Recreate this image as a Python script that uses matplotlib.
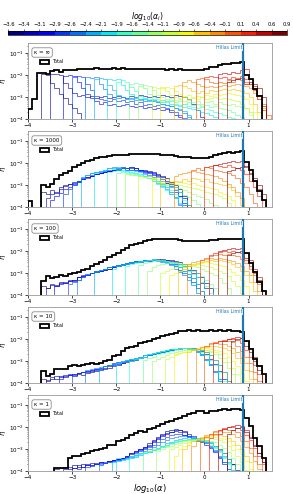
import numpy as np
import matplotlib

matplotlib.use('Agg')
import matplotlib.pyplot as plt
from matplotlib.colors import BoundaryNorm
from matplotlib.colorbar import ColorbarBase
from matplotlib.patches import Patch
from matplotlib.ticker import FuncFormatter
import matplotlib.transforms as mtransforms

# all histograms use bins of 0.1 in log10(alpha); values below are log10(eta)
BIN = 0.1
TOT_START = -4.0
hillas = 0.88

log_alpha_i = [-3.5, -3.25, -3.0, -2.75, -2.5, -2.25, -2.0, -1.75, -1.5,
               -1.25, -1.0, -0.75, -0.5, -0.25, 0.0, 0.25, 0.5, 0.75]

kappa_labels = ['\u03ba = \u221e', '\u03ba = 1000', '\u03ba = 100', '\u03ba = 10', '\u03ba = 1']

### kappa = inf
tot_inf = [-3.55, -3.10, -1.92, -1.90, -1.96, -1.84, -1.80, -1.86, -1.78, -1.76,
           -1.78, -1.74, -1.72, -1.75, -1.72, -1.70, -1.73, -1.71, -1.72, -1.70,
           -1.72, -1.70, -1.71, -1.73, -1.71, -1.72, -1.74, -1.72, -1.75, -1.73,
           -1.74, -1.76, -1.74, -1.77, -1.75, -1.78, -1.80, -1.78, -1.79, -1.77,
           -1.72, -1.66, -1.64, -1.55, -1.52, -1.50, -1.47, -1.46, -1.42,
           -2.00, -2.17, -2.62, -2.94]
start_inf = [-3.7, -3.5, -3.2, -3.0, -2.7, -2.5, -2.2, -2.0, -1.7,
             -1.5, -1.2, -1.0, -0.7, -0.5, -0.2, 0.0, 0.3, 0.5]
comp_inf = [
    [-1.95, -2.0, -2.35, -2.6, -2.85, -3.05, -3.3, -3.5, -3.75, -4.1],
    [-1.98, -1.95, -2.0, -2.35, -2.6, -2.8, -2.95, -2.9, -3.0, -2.95, -3.05, -3.0, -2.95, -3.05, -3.0, -2.95,
     -3.0, -3.05, -2.95, -3.0, -2.9, -2.95, -3.0, -2.95, -3.0, -2.9, -2.95, -3.0, -2.9, -2.95, -3.0, -3.1,
     -3.3, -3.6, -3.9, -4.2],
    [-2.05, -2.0, -2.05, -2.3, -2.6, -2.85, -3.05, -3.2, -3.3, -3.25, -3.35, -3.3, -3.4, -3.35, -3.3, -3.4,
     -3.45, -3.4, -3.5, -3.45, -3.55, -3.5, -3.6, -3.55, -3.7, -3.8, -3.9, -4.2],
    [-2.1, -2.05, -2.1, -2.4, -2.7, -2.95, -3.1, -3.15, -3.2, -3.1, -3.2, -3.15, -3.25, -3.2, -3.3, -3.25,
     -3.35, -3.3, -3.4, -3.35, -3.45, -3.5, -3.6, -3.7, -3.8, -3.95, -4.2],
    [-2.1, -2.15, -2.1, -2.4, -2.65, -2.85, -3.0, -3.05, -3.0, -3.1, -3.05, -3.15, -3.1, -3.2, -3.15, -3.2,
     -3.25, -3.3, -3.35, -3.4, -3.5, -3.6, -3.75, -3.9, -4.2],
    [-2.2, -2.15, -2.2, -2.45, -2.7, -2.9, -3.0, -3.05, -3.1, -3.05, -3.15, -3.1, -3.2, -3.15, -3.25, -3.3,
     -3.35, -3.4, -3.5, -3.55, -3.65, -3.8, -4.0, -4.2],
    [-2.2, -2.25, -2.2, -2.45, -2.7, -2.85, -3.0, -3.1, -3.05, -3.15, -3.1, -3.2, -3.25, -3.2, -3.3, -3.35,
     -3.4, -3.45, -3.5, -3.55, -3.6, -3.7, -3.75, -3.8, -3.9, -4.0, -4.2],
    [-2.3, -2.25, -2.3, -2.55, -2.75, -2.95, -3.05, -3.1, -3.15, -3.2, -3.15, -3.25, -3.2, -3.3, -3.35, -3.3,
     -3.4, -3.45, -3.5, -3.45, -3.55, -3.6, -3.7, -3.75, -3.8, -3.9, -3.95, -4.0, -4.2],
    [-2.4, -2.35, -2.4, -2.6, -2.85, -3.0, -3.1, -3.15, -3.2, -3.15, -3.25, -3.2, -3.3, -3.25, -3.35, -3.3,
     -3.4, -3.35, -3.45, -3.4, -3.5, -3.55, -3.6, -3.7, -3.8, -3.9, -4.1, -4.3],
    [-2.5, -2.45, -2.5, -2.7, -2.9, -3.0, -3.1, -3.05, -3.15, -3.1, -3.2, -3.15, -3.25, -3.2, -3.3, -3.25,
     -3.2, -3.3, -3.25, -3.3, -3.35, -3.3, -3.4, -3.45, -3.5, -3.7, -4.0, -4.3],
    [-2.55, -2.6, -2.55, -2.75, -2.9, -3.0, -3.05, -3.0, -3.1, -3.05, -3.1, -3.0, -3.1, -3.05, -3.0, -3.1,
     -3.05, -3.1, -3.15, -3.2, -3.3, -3.5, -3.8, -4.2],
    [-2.6, -2.55, -2.6, -2.75, -2.85, -2.95, -2.9, -3.0, -2.95, -3.0, -2.9, -2.95, -2.85, -2.9, -2.85, -2.8,
     -2.85, -2.9, -2.95, -3.1, -3.3, -3.7, -4.2],
    [-2.5, -2.45, -2.5, -2.6, -2.75, -2.8, -2.75, -2.8, -2.7, -2.75, -2.7, -2.65, -2.7, -2.65, -2.7, -2.75,
     -2.8, -3.0, -3.3, -3.7, -4.2],
    [-2.3, -2.25, -2.3, -2.4, -2.5, -2.55, -2.5, -2.55, -2.5, -2.45, -2.5, -2.45, -2.4, -2.45, -2.5, -2.6,
     -2.8, -3.1, -3.5, -4.0],
    [-2.2, -2.15, -2.2, -2.3, -2.35, -2.3, -2.35, -2.25, -2.3, -2.2, -2.25, -2.3, -2.4, -2.6, -2.9, -3.3, -3.8],
    [-2.1, -2.05, -2.1, -2.15, -2.1, -2.2, -2.1, -2.15, -2.05, -2.2, -2.4, -2.7, -3.1, -3.6],
    [-1.95, -1.9, -1.95, -1.85, -1.9, -1.8, -1.75, -2.2, -2.5, -2.9, -3.4],
    [-2.3, -2.25, -2.2, -2.15, -2.4, -2.3, -2.4, -2.6, -3.0],
]

### kappa = 1000
tot_1000 = [-3.73, -5.0, -5.0, -3.00, -3.10, -2.95, -2.75, -2.55, -2.45, -2.35,
            -2.20, -2.08, -2.00, -1.92, -1.85, -1.80, -1.75, -1.72, -1.68, -1.66,
            -1.64, -1.62, -1.62, -1.61, -1.60, -1.60, -1.61, -1.60, -1.59, -1.60,
            -1.62, -1.64, -1.66, -1.70, -1.72, -1.75, -1.74, -1.78, -1.80, -1.78,
            -1.79, -1.72, -1.66, -1.58, -1.55, -1.52, -1.53, -1.50, -1.47,
            -1.95, -2.34, -2.80, -3.26, -3.70]
start_1000 = [-3.7, -3.6, -3.5, -3.2, -3.0, -2.8, -2.5, -2.2, -2.0,
              -1.8, -1.5, -1.2, -1.0, -0.7, -0.3, 0.0, 0.2, 0.5]
comp_1000 = [
    [-3.3, -3.4, -3.25, -3.35, -3.1, -3.0, -2.95, -2.85, -2.8, -2.7, -2.65, -2.6, -2.5, -2.45, -2.4, -2.35,
     -2.3, -2.3, -2.25, -2.25, -2.2, -2.25, -2.3, -2.3, -2.35, -2.4, -2.5, -2.6, -2.7, -2.85, -3.0, -3.2,
     -3.5, -3.9, -4.3],
    [-3.6, -3.4, -3.3, -3.2, -3.05, -2.95, -2.9, -2.8, -2.75, -2.65, -2.6, -2.5, -2.45, -2.4, -2.35, -2.3,
     -2.28, -2.25, -2.25, -2.3, -2.25, -2.3, -2.35, -2.4, -2.45, -2.55, -2.65, -2.8, -2.95, -3.1, -3.3, -3.6,
     -4.0, -4.4],
    [-3.7, -3.5, -3.35, -3.2, -3.1, -2.95, -2.85, -2.75, -2.7, -2.6, -2.5, -2.45, -2.4, -2.35, -2.3, -2.3,
     -2.25, -2.3, -2.25, -2.3, -2.35, -2.4, -2.45, -2.55, -2.65, -2.8, -2.9, -3.1, -3.3, -3.5, -3.8, -4.2],
    [-3.4, -3.2, -3.0, -2.85, -2.75, -2.65, -2.55, -2.5, -2.4, -2.35, -2.3, -2.3, -2.25, -2.2, -2.25, -2.2,
     -2.25, -2.3, -2.35, -2.4, -2.5, -2.6, -2.75, -2.9, -3.05, -3.25, -3.5, -3.9, -4.3],
    [-3.0, -2.8, -2.65, -2.55, -2.45, -2.4, -2.35, -2.3, -2.25, -2.2, -2.22, -2.2, -2.25, -2.3, -2.3, -2.35,
     -2.45, -2.55, -2.65, -2.8, -2.95, -3.1, -3.3, -3.55, -3.9, -4.3],
    [-2.7, -2.55, -2.45, -2.4, -2.35, -2.3, -2.25, -2.25, -2.2, -2.25, -2.3, -2.3, -2.35, -2.4, -2.5, -2.6,
     -2.75, -2.9, -3.05, -3.2, -3.4, -3.6, -3.85, -4.2],
    [-2.45, -2.35, -2.3, -2.25, -2.28, -2.25, -2.3, -2.35, -2.4, -2.45, -2.5, -2.6, -2.7, -2.8, -2.95, -3.1,
     -3.25, -3.4, -3.6, -3.8, -4.1],
    [-2.4, -2.35, -2.3, -2.35, -2.4, -2.45, -2.5, -2.55, -2.6, -2.7, -2.8, -2.9, -3.0, -3.1, -3.25, -3.4,
     -3.55, -3.7, -3.9, -4.2],
    [-2.45, -2.4, -2.45, -2.5, -2.55, -2.6, -2.65, -2.7, -2.75, -2.85, -2.95, -3.0, -3.1, -3.2, -3.3, -3.45,
     -3.55, -3.7, -3.85, -4.0, -4.2],
    [-2.5, -2.55, -2.5, -2.6, -2.65, -2.7, -2.75, -2.8, -2.9, -2.95, -3.0, -3.1, -3.15, -3.25, -3.3, -3.4,
     -3.5, -3.55, -3.65, -3.8, -3.9, -4.1],
    [-2.6, -2.65, -2.6, -2.7, -2.75, -2.8, -2.85, -2.9, -2.95, -3.0, -3.05, -3.1, -3.15, -3.2, -3.25, -3.3,
     -3.35, -3.4, -3.5, -3.6, -3.8, -4.1],
    [-2.7, -2.65, -2.7, -2.75, -2.8, -2.85, -2.8, -2.9, -2.95, -2.9, -3.0, -3.05, -3.1, -3.15, -3.2, -3.3,
     -3.4, -3.5, -3.7, -4.0],
    [-2.9, -2.85, -2.9, -2.8, -2.85, -2.75, -2.8, -2.7, -2.75, -2.8, -2.75, -2.85, -2.9, -2.95, -3.0, -3.1,
     -3.25, -3.5, -3.9],
    [-2.6, -2.5, -2.45, -2.4, -2.35, -2.4, -2.45, -2.5, -2.55, -2.6, -2.7, -2.8, -2.95, -3.1, -3.3, -3.6, -4.0],
    [-2.3, -2.25, -2.3, -2.2, -2.25, -2.3, -2.35, -2.4, -2.45, -2.55, -2.7, -2.9, -3.1, -3.4, -3.8],
    [-2.2, -2.15, -2.1, -2.15, -2.2, -2.1, -2.2, -2.25, -2.3, -2.5, -2.8, -3.1, -3.5],
    [-2.1, -2.05, -2.0, -1.95, -1.9, -1.95, -1.9, -2.2, -2.45, -2.8, -3.2, -3.7],
    [-2.35, -2.3, -2.25, -2.2, -2.15, -2.5, -2.7, -3.0, -3.4],
]

### kappa = 100
tot_100 = [-5.0, -5.0, -5.0, -3.36, -3.16, -3.25, -3.18, -3.10, -3.12, -3.05,
           -3.00, -2.95, -2.85, -2.80, -2.68, -2.60, -2.50, -2.40, -2.28, -2.18,
           -2.08, -1.95, -1.85, -1.75, -1.68, -1.62, -1.56, -1.52, -1.48, -1.46,
           -1.45, -1.45, -1.46, -1.48, -1.50, -1.53, -1.55, -1.57, -1.56, -1.55,
           -1.56, -1.52, -1.50, -1.48, -1.46, -1.48, -1.46, -1.45, -1.44,
           -2.10, -2.56, -2.94, -3.39, -3.80]
start_100 = [-3.7, -3.6, -3.4, -3.1, -2.9, -2.5, -2.1, -1.8, -1.5,
             -1.3, -1.0, -0.8, -0.6, -0.4, -0.1, 0.1, 0.3, 0.5]
comp_100 = [
    [-3.6, -3.7, -3.5, -3.55, -3.4, -3.45, -3.3, -3.35, -3.2, -3.15, -3.1, -3.0, -2.95, -2.9, -2.85, -2.8,
     -2.75, -2.7, -2.65, -2.6, -2.55, -2.5, -2.5, -2.45, -2.45, -2.4, -2.4, -2.35, -2.4, -2.4, -2.45, -2.5,
     -2.6, -2.7, -2.85, -3.0, -3.2, -3.45, -3.7, -4.0, -4.4],
    [-3.7, -3.55, -3.6, -3.45, -3.4, -3.35, -3.3, -3.2, -3.15, -3.1, -3.0, -2.95, -2.9, -2.85, -2.8, -2.75,
     -2.7, -2.65, -2.6, -2.55, -2.5, -2.5, -2.45, -2.4, -2.42, -2.38, -2.4, -2.42, -2.45, -2.5, -2.6, -2.7,
     -2.85, -3.0, -3.2, -3.45, -3.7, -4.1],
    [-3.6, -3.5, -3.45, -3.35, -3.3, -3.2, -3.1, -3.05, -3.0, -2.9, -2.85, -2.8, -2.75, -2.7, -2.65, -2.6,
     -2.55, -2.5, -2.48, -2.45, -2.42, -2.4, -2.38, -2.4, -2.42, -2.45, -2.5, -2.6, -2.75, -2.9, -3.05, -3.25,
     -3.5, -3.8, -4.2],
    [-3.5, -3.4, -3.3, -3.2, -3.1, -3.0, -2.95, -2.9, -2.8, -2.75, -2.7, -2.65, -2.6, -2.55, -2.5, -2.48,
     -2.45, -2.42, -2.4, -2.4, -2.42, -2.45, -2.5, -2.6, -2.7, -2.85, -3.0, -3.2, -3.4, -3.7, -4.1],
    [-3.3, -3.2, -3.1, -3.0, -2.9, -2.85, -2.8, -2.72, -2.68, -2.62, -2.58, -2.55, -2.5, -2.48, -2.45, -2.42,
     -2.4, -2.42, -2.45, -2.5, -2.55, -2.65, -2.8, -2.95, -3.1, -3.3, -3.55, -3.9, -4.3],
    [-2.95, -2.85, -2.8, -2.75, -2.7, -2.65, -2.6, -2.55, -2.52, -2.5, -2.45, -2.42, -2.4, -2.4, -2.42, -2.45,
     -2.5, -2.6, -2.7, -2.85, -3.0, -3.2, -3.4, -3.7, -4.0],
    [-2.8, -2.7, -2.65, -2.6, -2.55, -2.5, -2.48, -2.45, -2.42, -2.4, -2.42, -2.45, -2.5, -2.55, -2.65, -2.75,
     -2.9, -3.05, -3.25, -3.5, -3.8, -4.2],
    [-2.7, -2.6, -2.55, -2.5, -2.45, -2.4, -2.38, -2.4, -2.42, -2.45, -2.5, -2.55, -2.65, -2.75, -2.9, -3.05,
     -3.2, -3.4, -3.6, -3.9, -4.3],
    [-2.65, -2.55, -2.5, -2.45, -2.4, -2.42, -2.45, -2.5, -2.55, -2.6, -2.7, -2.8, -2.9, -3.0, -3.15, -3.3,
     -3.5, -3.7, -4.0],
    [-2.9, -2.75, -2.65, -2.6, -2.55, -2.5, -2.52, -2.55, -2.6, -2.65, -2.7, -2.75, -2.8, -2.9, -3.0, -3.1,
     -3.25, -3.45, -3.7, -4.0],
    [-3.0, -2.9, -2.8, -2.75, -2.7, -2.65, -2.6, -2.62, -2.6, -2.65, -2.7, -2.75, -2.8, -2.9, -3.0, -3.15,
     -3.35, -3.6, -3.9],
    [-3.1, -3.0, -2.9, -2.8, -2.7, -2.65, -2.6, -2.55, -2.5, -2.55, -2.6, -2.65, -2.7, -2.8, -2.95, -3.1,
     -3.3, -3.6, -4.0],
    [-2.9, -2.8, -2.7, -2.6, -2.55, -2.5, -2.45, -2.4, -2.45, -2.4, -2.45, -2.5, -2.6, -2.75, -2.9, -3.1,
     -3.4, -3.8],
    [-2.6, -2.5, -2.45, -2.4, -2.35, -2.3, -2.35, -2.3, -2.35, -2.4, -2.45, -2.55, -2.7, -2.9, -3.1, -3.4, -3.8],
    [-2.4, -2.3, -2.25, -2.2, -2.15, -2.2, -2.15, -2.2, -2.25, -2.35, -2.55, -2.8, -3.1, -3.5],
    [-2.2, -2.1, -2.05, -2.0, -2.05, -2.0, -2.05, -2.1, -2.4, -2.7, -3.0, -3.4],
    [-2.0, -1.95, -1.9, -1.85, -1.9, -1.85, -2.1, -2.4, -2.8, -3.2],
    [-2.2, -2.1, -2.05, -2.0, -2.3, -2.5, -2.9, -3.3],
]

### kappa = 10
tot_10 = [-5.0, -5.0, -5.0, -3.44, -3.67, -3.58, -3.36, -3.38, -3.35, -3.22,
          -3.20, -3.22, -3.20, -3.15, -3.10, -3.12, -3.08, -2.99, -2.97, -2.78,
          -2.75, -2.55, -2.42, -2.36, -2.30, -2.20, -2.15, -2.08, -2.00, -1.95,
          -1.88, -1.82, -1.76, -1.72, -1.66, -1.62, -1.60, -1.62, -1.60, -1.62,
          -1.63, -1.60, -1.62, -1.60, -1.62, -1.60, -1.62, -1.65, -1.68,
          -2.10, -2.45, -2.90, -3.25, -3.60]
start_10 = [-3.7, -3.6, -3.3, -3.0, -2.7, -2.4, -2.0, -1.7, -1.4,
            -1.2, -0.9, -0.7, -0.4, -0.2, 0.0, 0.2, 0.4, 0.6]
comp_10 = [
    [-3.8, -3.9, -3.75, -3.8, -3.7, -3.75, -3.65, -3.7, -3.6, -3.62, -3.55, -3.5, -3.45, -3.42, -3.35, -3.3,
     -3.25, -3.2, -3.1, -3.05, -3.0, -2.95, -2.85, -2.8, -2.75, -2.7, -2.65, -2.6, -2.55, -2.5, -2.48, -2.45,
     -2.42, -2.4, -2.42, -2.45, -2.5, -2.6, -2.75, -2.95, -3.2, -3.5, -3.9, -4.3],
    [-3.85, -3.8, -3.7, -3.75, -3.65, -3.6, -3.65, -3.55, -3.5, -3.5, -3.45, -3.4, -3.35, -3.3, -3.25, -3.2,
     -3.15, -3.1, -3.0, -2.95, -2.9, -2.85, -2.8, -2.75, -2.7, -2.65, -2.6, -2.55, -2.52, -2.48, -2.45, -2.42,
     -2.4, -2.42, -2.45, -2.55, -2.7, -2.9, -3.15, -3.45, -3.8, -4.2],
    [-3.8, -3.7, -3.65, -3.6, -3.55, -3.5, -3.45, -3.4, -3.35, -3.3, -3.25, -3.2, -3.1, -3.05, -3.0, -2.95,
     -2.9, -2.85, -2.8, -2.75, -2.7, -2.65, -2.6, -2.55, -2.5, -2.48, -2.45, -2.42, -2.4, -2.45, -2.5, -2.6,
     -2.75, -2.95, -3.2, -3.5, -3.9, -4.3],
    [-3.6, -3.55, -3.5, -3.45, -3.4, -3.35, -3.3, -3.25, -3.2, -3.15, -3.1, -3.05, -3.0, -2.95, -2.9, -2.85,
     -2.8, -2.72, -2.68, -2.62, -2.58, -2.52, -2.48, -2.45, -2.42, -2.4, -2.42, -2.45, -2.55, -2.7, -2.9,
     -3.15, -3.45, -3.8, -4.2],
    [-3.4, -3.35, -3.3, -3.28, -3.25, -3.2, -3.15, -3.1, -3.05, -3.0, -2.95, -2.9, -2.85, -2.8, -2.75, -2.7,
     -2.65, -2.6, -2.55, -2.5, -2.48, -2.45, -2.42, -2.45, -2.5, -2.6, -2.75, -2.95, -3.2, -3.5, -3.9],
    [-3.3, -3.25, -3.2, -3.15, -3.1, -3.05, -3.0, -2.95, -2.9, -2.85, -2.8, -2.75, -2.7, -2.65, -2.6, -2.55,
     -2.5, -2.48, -2.45, -2.42, -2.45, -2.5, -2.6, -2.75, -2.95, -3.2, -3.5, -3.9],
    [-3.1, -3.0, -2.95, -2.9, -2.85, -2.8, -2.75, -2.7, -2.65, -2.6, -2.55, -2.5, -2.48, -2.45, -2.42, -2.4,
     -2.45, -2.5, -2.6, -2.75, -2.95, -3.2, -3.5, -3.9],
    [-3.0, -2.9, -2.85, -2.8, -2.7, -2.65, -2.6, -2.55, -2.5, -2.48, -2.45, -2.42, -2.4, -2.42, -2.45, -2.5,
     -2.6, -2.75, -2.95, -3.2, -3.5, -3.9],
    [-2.95, -2.85, -2.8, -2.7, -2.65, -2.6, -2.55, -2.5, -2.45, -2.42, -2.4, -2.42, -2.45, -2.5, -2.6, -2.75,
     -2.95, -3.2, -3.5, -3.9],
    [-3.0, -2.9, -2.8, -2.72, -2.65, -2.6, -2.55, -2.5, -2.48, -2.45, -2.45, -2.48, -2.52, -2.6, -2.7, -2.85,
     -3.05, -3.3, -3.6, -4.0],
    [-2.9, -2.8, -2.7, -2.62, -2.58, -2.52, -2.5, -2.48, -2.45, -2.5, -2.55, -2.6, -2.7, -2.85, -3.05, -3.3,
     -3.6, -4.0],
    [-2.75, -2.65, -2.6, -2.55, -2.5, -2.45, -2.42, -2.4, -2.45, -2.5, -2.55, -2.65, -2.8, -3.0, -3.25, -3.55,
     -3.9],
    [-2.6, -2.5, -2.42, -2.38, -2.35, -2.3, -2.32, -2.35, -2.4, -2.5, -2.65, -2.85, -3.1, -3.4, -3.8],
    [-2.45, -2.35, -2.3, -2.25, -2.2, -2.22, -2.25, -2.3, -2.4, -2.6, -2.85, -3.1, -3.45, -3.8],
    [-2.3, -2.2, -2.15, -2.1, -2.08, -2.1, -2.15, -2.3, -2.55, -2.8, -3.1, -3.5, -3.9],
    [-2.2, -2.1, -2.05, -2.0, -2.02, -2.05, -2.2, -2.5, -2.8, -3.2, -3.6],
    [-2.1, -2.0, -1.95, -1.92, -1.95, -2.1, -2.4, -2.8, -3.2],
    [-2.1, -2.0, -1.95, -2.3, -2.6, -3.0, -3.4],
]

### kappa = 1
tot_1 = [-5.0, -5.0, -5.0, -5.0, -5.0, -5.0, -3.85, -3.85, -3.85, -3.40,
         -3.32, -3.30, -3.24, -3.20, -3.09, -3.05, -3.01, -2.95, -2.83, -2.80,
         -2.64, -2.60, -2.50, -2.35, -2.26, -2.20, -2.22, -2.10, -2.03, -1.95,
         -1.88, -1.80, -1.73, -1.65, -1.58, -1.50, -1.42, -1.35, -1.27, -1.28,
         -1.35, -1.30, -1.28, -1.25, -1.20, -1.22, -1.20, -1.18, -1.22,
         -1.58, -1.95, -2.49, -2.86, -3.40]
start_1 = [-3.4, -3.2, -3.0, -2.7, -2.4, -2.1, -2.0, -1.7, -1.4,
           -1.1, -0.8, -0.7, -0.5, -0.3, -0.1, 0.1, 0.3, 0.5]
comp_1 = [
    [-3.9, -3.85, -3.8, -3.9, -3.75, -3.8, -3.7, -3.75, -3.65, -3.7, -3.6, -3.62, -3.55, -3.5, -3.45, -3.4,
     -3.3, -3.2, -3.1, -3.0, -2.9, -2.75, -2.6, -2.45, -2.3, -2.2, -2.12, -2.1, -2.15, -2.25, -2.4, -2.5,
     -2.6, -2.65, -2.7, -2.75, -2.85, -3.0, -3.2, -3.45, -3.7, -3.95, -4.3],
    [-3.9, -3.8, -3.85, -3.75, -3.8, -3.7, -3.72, -3.65, -3.6, -3.62, -3.55, -3.5, -3.45, -3.4, -3.35, -3.25,
     -3.15, -3.05, -2.95, -2.85, -2.7, -2.55, -2.42, -2.3, -2.22, -2.15, -2.15, -2.2, -2.3, -2.42, -2.55,
     -2.65, -2.7, -2.75, -2.85, -3.0, -3.2, -3.45, -3.7, -4.0, -4.4],
    [-3.85, -3.9, -3.8, -3.75, -3.78, -3.7, -3.65, -3.6, -3.55, -3.5, -3.45, -3.4, -3.3, -3.2, -3.1, -3.0,
     -2.9, -2.8, -2.65, -2.5, -2.38, -2.28, -2.22, -2.2, -2.25, -2.35, -2.45, -2.55, -2.62, -2.7, -2.8,
     -2.95, -3.15, -3.4, -3.7, -4.0, -4.4],
    [-3.8, -3.75, -3.7, -3.72, -3.65, -3.6, -3.55, -3.5, -3.45, -3.38, -3.3, -3.2, -3.1, -3.0, -2.9, -2.8,
     -2.68, -2.55, -2.45, -2.38, -2.32, -2.3, -2.35, -2.42, -2.5, -2.58, -2.65, -2.75, -2.9, -3.1, -3.35,
     -3.6, -3.9, -4.3],
    [-3.7, -3.65, -3.6, -3.55, -3.5, -3.45, -3.4, -3.35, -3.28, -3.2, -3.1, -3.0, -2.9, -2.8, -2.7, -2.6,
     -2.52, -2.45, -2.42, -2.4, -2.42, -2.48, -2.55, -2.62, -2.7, -2.85, -3.05, -3.3, -3.6, -3.9, -4.3],
    [-3.6, -3.55, -3.5, -3.45, -3.4, -3.35, -3.28, -3.2, -3.12, -3.05, -2.95, -2.85, -2.75, -2.68, -2.6,
     -2.55, -2.5, -2.48, -2.5, -2.52, -2.55, -2.6, -2.7, -2.85, -3.05, -3.3, -3.6, -3.95],
    [-3.4, -3.45, -3.4, -3.35, -3.3, -3.25, -3.2, -3.12, -3.05, -2.98, -2.9, -2.82, -2.75, -2.68, -2.62,
     -2.58, -2.55, -2.52, -2.55, -2.6, -2.65, -2.75, -2.9, -3.1, -3.35, -3.65, -4.0],
    [-3.3, -3.25, -3.2, -3.15, -3.1, -3.02, -2.95, -2.88, -2.8, -2.72, -2.66, -2.6, -2.58, -2.55, -2.58,
     -2.6, -2.62, -2.7, -2.8, -2.95, -3.15, -3.4, -3.7, -4.0],
    [-3.2, -3.1, -3.05, -3.0, -2.92, -2.85, -2.78, -2.7, -2.65, -2.6, -2.58, -2.56, -2.58, -2.6, -2.65,
     -2.72, -2.85, -3.0, -3.2, -3.45, -3.75, -4.1],
    [-3.1, -3.0, -2.92, -2.85, -2.78, -2.72, -2.66, -2.6, -2.56, -2.55, -2.56, -2.6, -2.65, -2.7, -2.8,
     -2.95, -3.15, -3.4, -3.7, -4.0],
    [-3.0, -2.9, -2.82, -2.75, -2.68, -2.62, -2.57, -2.53, -2.5, -2.52, -2.55, -2.6, -2.7, -2.85, -3.05,
     -3.3, -3.6, -3.95],
    [-3.3, -3.0, -2.85, -2.72, -2.62, -2.55, -2.5, -2.47, -2.45, -2.47, -2.5, -2.55, -2.65, -2.8, -3.0,
     -3.25, -3.55, -3.9],
    [-3.0, -2.8, -2.65, -2.55, -2.45, -2.4, -2.36, -2.35, -2.38, -2.42, -2.5, -2.62, -2.8, -3.0, -3.3,
     -3.6, -4.0],
    [-2.85, -2.62, -2.5, -2.38, -2.3, -2.25, -2.2, -2.22, -2.25, -2.32, -2.45, -2.65, -2.9, -3.2, -3.55, -3.9],
    [-2.7, -2.45, -2.3, -2.2, -2.12, -2.1, -2.12, -2.15, -2.25, -2.4, -2.65, -2.95, -3.3, -3.7],
    [-2.5, -2.3, -2.15, -2.05, -2.0, -2.02, -2.05, -2.15, -2.35, -2.6, -2.95, -3.3, -3.7],
    [-2.3, -2.1, -2.0, -1.95, -1.92, -1.95, -2.15, -2.45, -2.8, -3.2, -3.6],
    [-2.3, -2.15, -2.05, -2.0, -2.25, -2.5, -2.85, -3.2, -3.6],
]

panels = [
    (tot_inf, start_inf, comp_inf),
    (tot_1000, start_1000, comp_1000),
    (tot_100, start_100, comp_100),
    (tot_10, start_10, comp_10),
    (tot_1, start_1, comp_1),
]

### Plot
W, H = 293.0, 494.0
fig = plt.figure(figsize=(W / 100, H / 100), dpi=100)
cmap = plt.get_cmap('jet', len(log_alpha_i))
hillas_color = '#1f77b4'

for k, (tot, starts, comps) in enumerate(panels):
    top = 43 + 88 * k
    ax = fig.add_axes([28 / W, 1 - (top + 76) / H, 244 / W, 76 / H])
    for j, (s, v) in enumerate(zip(starts, comps)):
        edges = s + BIN * np.arange(len(v) + 1)
        ax.stairs(10 ** np.array(v), edges, baseline=1e-8, color=cmap(j), lw=0.7, alpha=0.6)
    edges = TOT_START + BIN * np.arange(len(tot) + 1)
    ax.stairs(10 ** np.array(tot), edges, baseline=1e-8, color='k', lw=1.3, zorder=5)
    ax.axvline(hillas, color=hillas_color, lw=1.6, zorder=6)

    trans = mtransforms.blended_transform_factory(ax.transData, ax.transAxes)
    ax.text(hillas - 0.02, 0.935, 'Hillas Limit', transform=trans, ha='right', va='center',
            color=hillas_color, fontsize=3.4, zorder=7,
            bbox=dict(facecolor='white', edgecolor='none', alpha=0.85, pad=0.6))
    ax.text(0.025, 0.875, kappa_labels[k], transform=ax.transAxes, fontsize=4, va='center', zorder=7,
            bbox=dict(boxstyle='round,pad=0.4', facecolor='white', edgecolor='0.55', lw=0.6))
    handle = Patch(facecolor='none', edgecolor='k', lw=1.3)
    ax.legend([handle], ['Total'], loc='upper left', bbox_to_anchor=(0.035, 0.83), frameon=False,
              fontsize=3.4, handlelength=2.0, handleheight=0.9, borderpad=0.2)

    ax.set_yscale('log')
    ax.set_xlim(-4.0, 1.53)
    ax.set_ylim(1e-4, 0.28)
    ax.set_xticks([-4, -3, -2, -1, 0, 1])
    ax.set_yticks([1e-4, 1e-3, 1e-2, 1e-1])
    ax.tick_params(labelsize=4.1, length=2, width=0.5, pad=1)
    ax.tick_params(which='minor', length=1, width=0.4)
    for sp in ax.spines.values():
        sp.set_color('0.6')
        sp.set_linewidth(0.6)
    ax.set_ylabel(r'$\eta$', fontsize=5, labelpad=1)
    if k == len(panels) - 1:
        ax.set_xlabel(r'$log_{10}(\alpha)$', fontsize=6, labelpad=1)

# colorbar of the source log10(alpha_i)
bounds = [log_alpha_i[0] - 0.125] + [a + 0.125 for a in log_alpha_i]
cax = fig.add_axes([8.3 / W, 1 - 35 / H, 278.7 / W, 4.3 / H])
norm = BoundaryNorm(bounds, cmap.N)
cb = ColorbarBase(cax, cmap=cmap, norm=norm, orientation='horizontal', ticks=bounds, boundaries=bounds)
cb.outline.set_linewidth(0.5)
cax.xaxis.set_ticks_position('top')
cax.xaxis.set_label_position('top')
cax.xaxis.set_major_formatter(FuncFormatter(lambda v, p: ('%.1f' % v).replace('-', '\u2212')))
cax.tick_params(labelsize=3.8, length=1.5, width=0.4, pad=1)
cb.set_label(r'$log_{10}(\alpha_i)$', fontsize=5.5, labelpad=2.5)

plt.savefig('out.png', dpi=100)
